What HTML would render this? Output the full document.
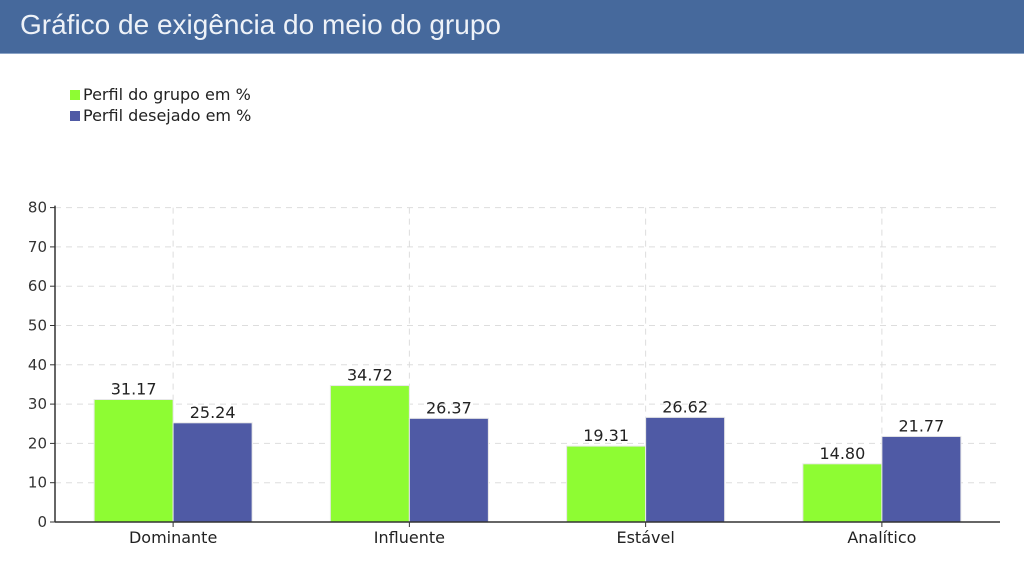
<!DOCTYPE html>
<html><head><meta charset="utf-8"><style>
body{margin:0;width:1024px;height:576px;background:#fff;overflow:hidden;font-family:"Liberation Sans","DejaVu Sans",sans-serif}
#hdr{position:absolute;left:0;top:0;width:1024px;height:54px;background:#46699c;color:#eef2f8;font-size:28px;line-height:50px;padding-left:20px;box-sizing:border-box;border-bottom:1px solid #8aa3c6}
svg{position:absolute;left:0;top:0}
</style></head><body>
<div id="hdr">Gráfico de exigência do meio do grupo</div>
<svg id="c" width="1024" height="576" font-family="DejaVu Sans, sans-serif"></svg>
<script>
const categories=["Dominante","Influente","Estável","Analítico"];
const grupo=[31.17,34.72,19.31,14.80];
const desejado=[25.24,26.37,26.62,21.77];
const yTicks=[0,10,20,30,40,50,60,70,80];
const seriesNames=["Perfil do grupo em %","Perfil desejado em %"];
const colors=["#8efc33","#4f5aa5"];
const svg=document.getElementById('c');const NS="http://www.w3.org/2000/svg";
const x0=55,x1=1000,yBase=522,yTop=207.6,yMax=80;
const y=v=>yBase-(v/yMax)*(yBase-yTop);
const band=(x1-x0)/categories.length;
const cx=i=>x0+band*(i+0.5);
const bw=79;
function mk(t,a,txt){const e=document.createElementNS(NS,t);for(const k in a)e.setAttribute(k,a[k]);if(txt!=null)e.textContent=txt;svg.appendChild(e);return e;}
// grid
yTicks.forEach(t=>{if(t>0){const g=mk('line',{x1:x0,x2:x1,y1:y(t),y2:y(t),stroke:'#ddd','stroke-dasharray':'6,5'});

}
const tk=mk('line',{x1:x0-5,x2:x0,y1:y(t),y2:y(t),stroke:'#333'});


const l=mk('text',{x:x0-8,y:y(t)+5,'text-anchor':'end','font-size':15,fill:'#333'},t);

});
categories.forEach((c,i)=>{const g=mk('line',{x1:cx(i),x2:cx(i),y1:yTop,y2:yBase,stroke:'#ddd','stroke-dasharray':'6,5'});

});
// bars
[grupo,desejado].forEach((s,si)=>s.forEach((v,i)=>{
const bx=cx(i)-bw+si*bw;
const r=mk('rect',{x:bx,y:y(v),width:bw,height:yBase-y(v),fill:colors[si],stroke:'#e8e8e8','stroke-width':1});


const t=mk('text',{x:bx+bw/2,y:y(v)-5,'text-anchor':'middle','font-size':16,fill:'#222'},v.toFixed(2));

}));
// axes
const ax=mk('line',{x1:x0,x2:x0,y1:yTop-2,y2:yBase,stroke:'#333','stroke-width':1.5});


const bx=mk('line',{x1:x0,x2:x1,y1:yBase,y2:yBase,stroke:'#333','stroke-width':1.5});


categories.forEach((c,i)=>{const tk=mk('line',{x1:cx(i),x2:cx(i),y1:yBase,y2:yBase+5,stroke:'#333'});


const l=mk('text',{x:cx(i),y:yBase+21,'text-anchor':'middle','font-size':16,fill:'#222'},c);

});
// legend
seriesNames.forEach((n,i)=>{const r=mk('rect',{x:70,y:90+i*21,width:10,height:10,fill:colors[i]});


const t=mk('text',{x:83,y:100+i*21,'font-size':16,fill:'#222'},n);

});
</script>
</body></html>
